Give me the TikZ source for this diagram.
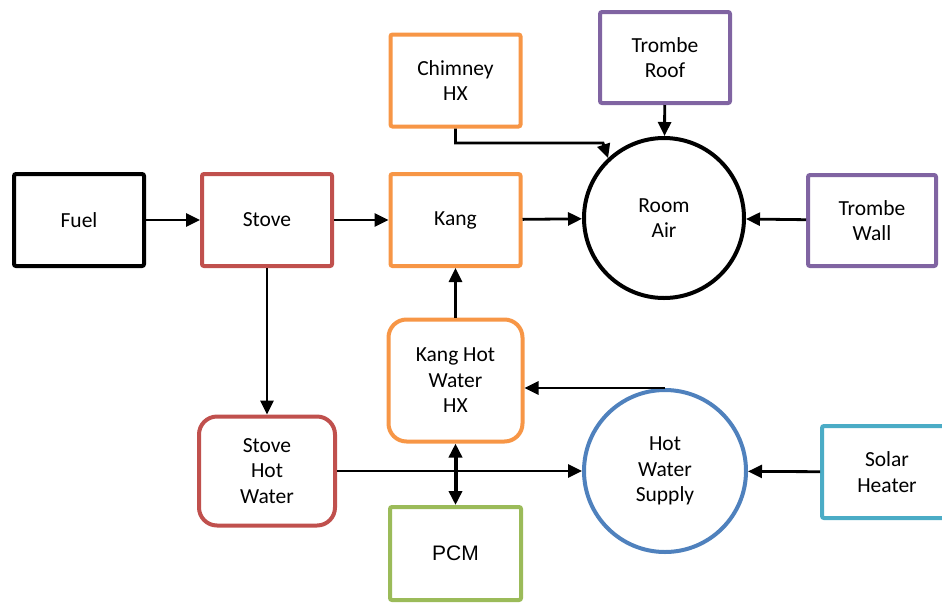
\documentclass[tikz,border=0pt]{standalone}
\usepackage{fontspec}
\setmainfont{Carlito}
\newfontfamily\arialfont{Liberation Sans}
\usetikzlibrary{arrows.meta}
\definecolor{stovered}{HTML}{C0504D}
\definecolor{kangorange}{HTML}{F79646}
\definecolor{trombepurple}{HTML}{8064A2}
\definecolor{waterblue}{HTML}{4F81BD}
\definecolor{solarcyan}{HTML}{4BACC6}
\definecolor{pcmgreen}{HTML}{9BBB59}
\tikzset{
  block/.style={draw, line width=4pt, rounded corners=2pt, fill=white, minimum width=130pt,
    minimum height=92pt, align=center, inner sep=0pt, font=\fontsize{21.5}{25.5}\selectfont},
  softblock/.style={block, rounded corners=18pt},
  tank/.style={draw, circle, line width=4pt, fill=white, minimum size=160pt, align=center,
    inner sep=0pt, font=\fontsize{21.5}{25.5}\selectfont}
}
\begin{document}
\begin{tikzpicture}[x=1pt,y=-1pt,>={Triangle[length=14pt,width=13pt]},line width=2.8pt]
  \clip (0,0) rectangle (942,603);

  \node[block] (fuel)    at (79,220)    {Fuel};
  \node[block, draw=stovered] (stove) at (267,220) {Stove};
  \node[block, draw=kangorange] (kang) at (455.5,220) {Kang};
  \node[block, draw=kangorange] (chimney) at (455.5,80.5) {Chimney\\HX};
  \node[block, draw=trombepurple, minimum height=91pt] (roof) at (665,57.5) {Trombe\\Roof};
  \node[tank] (room) at (664,218) {Room\\Air};
  \node[block, draw=trombepurple, minimum width=128pt, minimum height=91pt] (wall) at (872,220.5) {Trombe\\Wall};

  \node[softblock, draw=kangorange, minimum width=134pt, minimum height=122pt] (hx) at (455.5,380.5)
    {Kang Hot\\Water\\HX};
  \node[softblock, draw=stovered, minimum width=136pt, minimum height=109pt] (shw) at (267,471)
    {Stove\\Hot\\Water};
  \node[block, draw=pcmgreen, minimum width=131pt, minimum height=93pt, font=\arialfont\fontsize{21}{25}\selectfont] (pcm) at (455.5,553.5) {PCM};
  \node[tank, draw=waterblue, minimum size=162pt] (supply) at (665,471) {Hot\\Water\\Supply};
  \node[block, draw=solarcyan] (solar) at (887,472) {Solar\\Heater};

  % Air side
  \draw[->] (fuel) -- (stove);
  \draw[->] (stove) -- (kang);
  \draw[->] (kang) -- (room);
  \draw[->] (roof) -- (room);
  \draw[->] (wall) -- (room);
  \coordinate (chimbend) at (603,143);
  \draw[->] (chimney.south) |- (chimbend) -- (room.133);

  % Water side
  \draw[->] (stove) -- (shw);
  \draw[->] (hx) -- (kang);
  \draw[->] (supply.north) -- (supply.north -| hx.east);
  \draw[->] (shw) -- (supply);
  \draw[<->, line width=4pt] (hx) -- (pcm);
  \draw[->] (solar) -- (supply);
\end{tikzpicture}
\end{document}
